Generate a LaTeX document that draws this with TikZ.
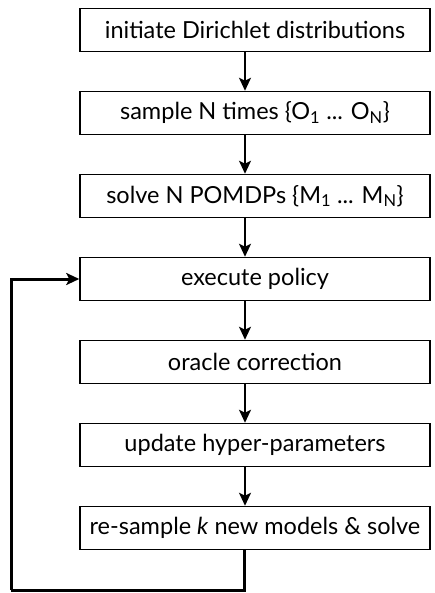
\documentclass[tikz,border=0pt]{standalone}
\usepackage{fontspec}
\setmainfont{Lato}
\usepackage{tikz}
\usetikzlibrary{arrows.meta,positioning}

\begin{document}
\begin{tikzpicture}[x=1pt,y=1pt,->,>={Stealth[length=13pt,width=12pt,inset=3pt]},auto,node distance=38.5pt,
  proc node/.style={rectangle,draw,line width=1.5pt,fill=white,minimum width=350pt,
    minimum height=43pt,inner sep=0pt,font=\fontsize{23.5}{28}\selectfont},
  flow/.style={line width=2pt},
  loop/.style={line width=3pt}]
  \useasboundingbox (0,0) rectangle (435,-593);
  \node[proc node] (init) at (255,-30) {initiate Dirichlet distributions};
  \node[proc node] (sample) [below=of init] {sample N times \{O\textsubscript{1} ... O\textsubscript{N}\}};
  \node[proc node] (solve) [below=of sample] {solve N POMDPs \{M\textsubscript{1} ... M\textsubscript{N}\}};
  \node[proc node] (exec) [below=of solve] {execute policy};
  \node[proc node] (oracle) [below=of exec] {oracle correction};
  \node[proc node] (update) [below=of oracle] {update hyper-parameters};
  \node[proc node] (resample) [below=of update] {re-sample \textit{k} new models \& solve};

  % arrows between steps
  \foreach \a/\b in {init/sample,sample/solve,solve/exec,exec/oracle,oracle/update,update/resample}
    \draw[flow] ([xshift=-10pt]\a.south) -- ([xshift=-10pt]\b.north);

  % loop back to execute policy
  \coordinate (loop out) at ([xshift=-11pt]resample.south);
  \coordinate (loop corner) at (11,-590);
  \draw[loop,-] (loop out) |- (loop corner);
  \draw[loop] (loop corner) |- (exec.west);
\end{tikzpicture}
\end{document}
